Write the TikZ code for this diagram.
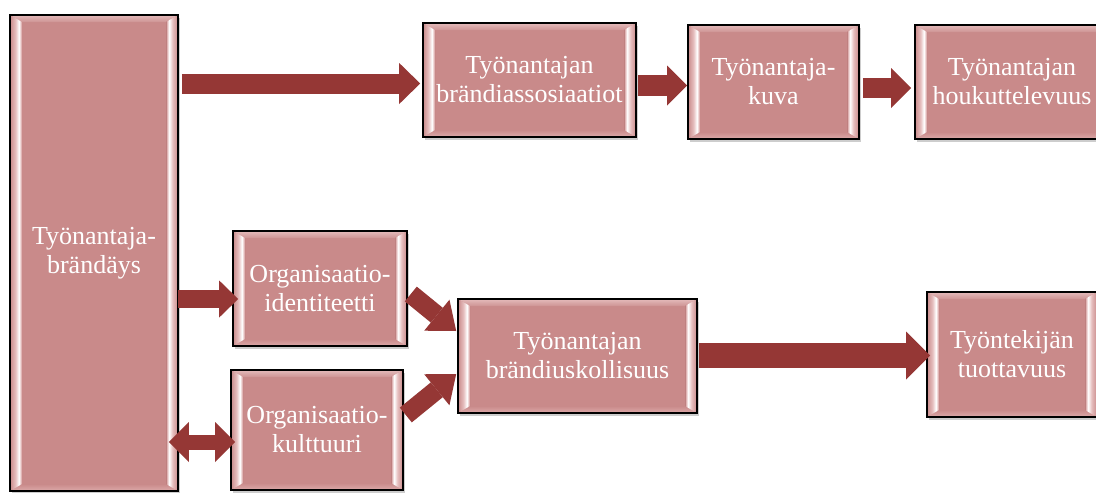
\documentclass[tikz,border=0pt]{standalone}
\usepackage{fontspec}
\setmainfont{Liberation Serif}
\usetikzlibrary{arrows.meta,calc,shadows}

\definecolor{boxfill}{HTML}{C98A8A}
\definecolor{bevtop}{HTML}{E4BBBB}
\definecolor{bevbot}{HTML}{DDAAAA}
\definecolor{bevmid}{HTML}{E6BFBF}
\definecolor{bevedge}{HTML}{BF8080}
\definecolor{arrowred}{HTML}{953735}

% side bevels: pink outside, bright highlight near the inner edge
\pgfdeclarehorizontalshading{bevleft}{100bp}{color(0bp)=(boxfill); color(25bp)=(boxfill);
  color(48bp)=(bevmid); color(62bp)=(white); color(70bp)=(bevmid); color(75bp)=(bevedge); color(100bp)=(bevedge)}
\pgfdeclarehorizontalshading{bevright}{100bp}{color(0bp)=(bevedge); color(25bp)=(bevedge);
  color(30bp)=(bevmid); color(38bp)=(white); color(52bp)=(bevmid); color(75bp)=(boxfill); color(100bp)=(boxfill)}

\tikzset{
  bevelbox/.style={draw=black, line width=1.6pt, fill=boxfill, text=white, align=center,
    inner sep=0pt, font=\fontsize{26}{29}\selectfont,
    drop shadow={shadow xshift=2pt, shadow yshift=-3pt, opacity=.28, fill=black!70},
    path picture={
      \coordinate (bnw) at (path picture bounding box.north west);
      \coordinate (bne) at (path picture bounding box.north east);
      \coordinate (bsw) at (path picture bounding box.south west);
      \coordinate (bse) at (path picture bounding box.south east);
      \fill[top color=bevtop, bottom color=boxfill!92!white]
        (bnw) -- (bne) -- ([shift={(-12pt,-7pt)}]bne) -- ([shift={(12pt,-7pt)}]bnw) -- cycle;
      \fill[top color=boxfill, bottom color=bevbot]
        (bsw) -- (bse) -- ([shift={(-12pt,7pt)}]bse) -- ([shift={(12pt,7pt)}]bsw) -- cycle;
      \shade[shading=bevleft]
        (bnw) -- (bsw) -- ([shift={(12pt,7pt)}]bsw) -- ([shift={(12pt,-7pt)}]bnw) -- cycle;
      \shade[shading=bevright]
        (bne) -- (bse) -- ([shift={(-12pt,7pt)}]bse) -- ([shift={(-12pt,-7pt)}]bne) -- cycle;
    }},
  blockarrow/.style n args={3}{draw=arrowred, line width=#1pt,
    -{Triangle[length=#2pt, width=#3pt, line width=0pt]}},
  twoblockarrow/.style n args={3}{draw=arrowred, line width=#1pt,
    {Triangle[length=#2pt, width=#3pt, line width=0pt]}-{Triangle[length=#2pt, width=#3pt, line width=0pt]}}
}

\begin{document}
\begin{tikzpicture}[x=1pt, y=-1pt]
  \useasboundingbox (0,0) rectangle (1096,493);
  \fill[white] (0,0) rectangle (1096,493);
  \clip (0,0) rectangle (1096,493);

  % boxes
  \node[bevelbox, minimum width=168pt, minimum height=476pt] (L) at (94,253) {Työnantaja-\\brändäys};
  \node[bevelbox, minimum width=213pt, minimum height=114pt] (A) at (529.5,80) {Työnantajan\\brändiassosiaatiot};
  \node[bevelbox, minimum width=171pt, minimum height=114pt] (B) at (773.5,82) {Työnantaja-\\kuva};
  \node[bevelbox, minimum width=194pt, minimum height=114pt] (C) at (1012,82) {Työnantajan\\houkuttelevuus};
  \node[bevelbox, minimum width=174pt, minimum height=115pt] (D) at (320,288.5) {Organisaatio-\\identiteetti};
  \node[bevelbox, minimum width=172pt, minimum height=120pt] (E) at (317,430) {Organisaatio-\\kulttuuri};
  \node[bevelbox, minimum width=239pt, minimum height=114pt] (F) at (577.5,356) {Työnantajan\\brändiuskollisuus};
  \node[bevelbox, minimum width=170pt, minimum height=125pt] (G) at (1012,354.5) {Työntekijän\\tuottavuus};

  % connectors
  \draw[blockarrow={20}{21}{41}] ($(L.east |- A.west)+(3,3.5)$) -- ($(A.west)+(-2,3.5)$);
  \draw[blockarrow={21}{20}{40}] ($(A.east)+(1,5.5)$) -- ($(B.west)+(0,3.5)$);
  \draw[blockarrow={20}{20}{40}] ($(B.east)+(3,6)$) -- ($(C.west)+(-3,6)$);
  \draw[blockarrow={18}{19}{37}] ($(L.east |- D.west)+(-1,10.5)$) -- ($(D.west)+(6,10.5)$);
  \draw[twoblockarrow={15}{20}{40}] ($(L.east |- E.west)+(-10,12)$) -- ($(E.west)+(5,12)$);
  \draw[blockarrow={19}{25}{40}] ($(D.east)+(3,5.5)$) -- ($(F.west)+(-1,-25)$);
  \draw[blockarrow={19}{25}{40}] ($(E.east)+(2,-15)$) -- ($(F.west)+(-1,18)$);
  \draw[blockarrow={25}{24}{48}] ($(F.east)+(1,-0.5)$) -- ($(G.west)+(4,1)$);
\end{tikzpicture}
\end{document}
